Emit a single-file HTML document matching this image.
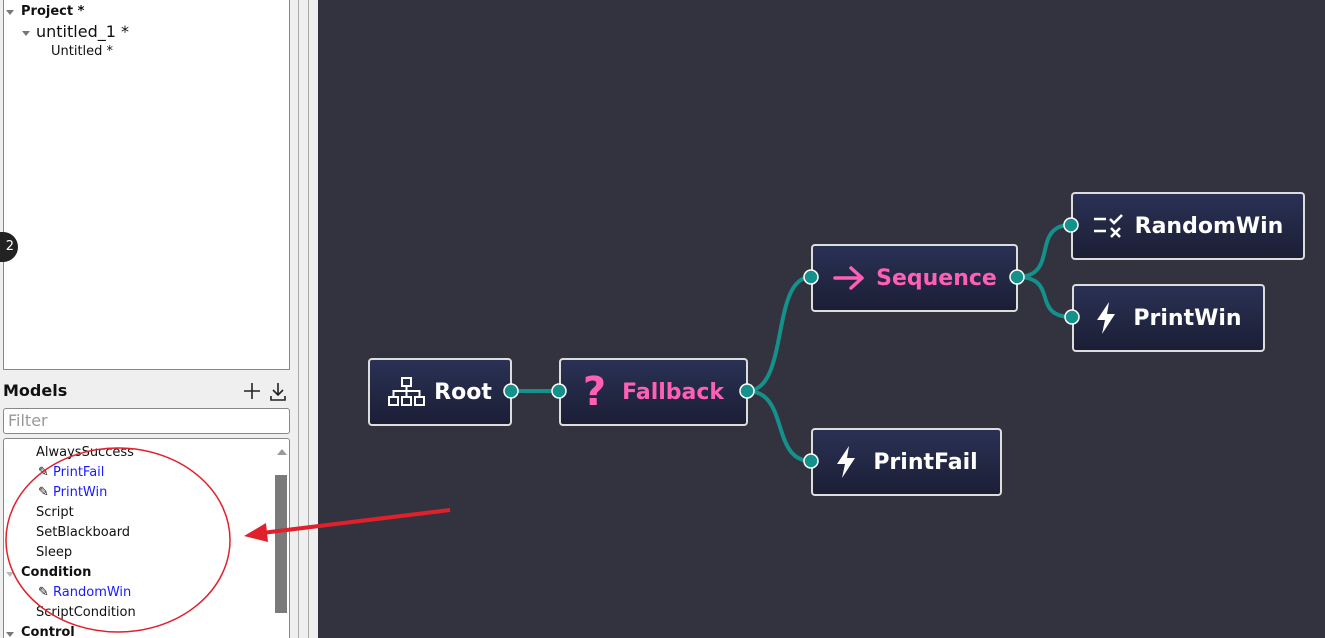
<!DOCTYPE html>
<html><head><meta charset="utf-8"><style>
html,body{margin:0;width:1325px;height:638px;overflow:hidden}
body{background:#efefef;font-family:"DejaVu Sans","Liberation Sans",sans-serif;position:relative}
.a{position:absolute}
.t{position:absolute;font-size:13px;color:#111;white-space:nowrap}
.b{color:#1a1aff}
.node{position:absolute;box-sizing:border-box;border:2px solid #ddd;border-radius:4px;background:linear-gradient(#2a3154,#1b1e35);color:#fff;font-weight:bold;font-size:22px;display:flex;align-items:center;justify-content:center;gap:12px}
.tri{position:absolute;width:0;height:0;border-left:4px solid transparent;border-right:4px solid transparent;border-top:5px solid #777}
</style></head><body>
<div class="a" style="left:3px;top:-2px;width:287px;height:372px;background:#fff;border:1px solid #888;box-sizing:border-box"></div>
<div class="tri" style="left:6px;top:10px"></div>
<div class="t" style="left:21px;top:4px;font-weight:bold">Project *</div>
<div class="tri" style="left:22px;top:31px"></div>
<div class="t" style="left:36px;top:22px;font-size:16px">untitled_1 *</div>
<div class="t" style="left:51px;top:44px">Untitled *</div>
<div class="a" style="left:-20px;top:232px;width:38px;height:30px;border-radius:15px;background:#222;color:#fff;font-size:13px;line-height:30px;text-align:right;padding-right:4px;box-sizing:border-box">2</div>
<div class="t" style="left:3px;top:381px;font-size:16px;font-weight:bold">Models</div>
<svg class="a" style="left:242px;top:381px" width="48" height="22" fill="none" stroke="#222" stroke-width="1.6"><path d="M10 2v16M2 10h16"/><path d="M36 2v12M31 9l5 5 5-5M29 15v4h14v-4"/></svg>
<div class="a" style="left:3px;top:408px;width:287px;height:26px;background:#fff;border:1px solid #888;border-radius:3px;box-sizing:border-box;color:#999;font-size:16px;padding:2px 4px">Filter</div>
<div class="a" style="left:3px;top:438px;width:287px;height:200px;background:#fff;border:1px solid #888;border-bottom:none;border-radius:3px 3px 0 0;box-sizing:border-box;overflow:hidden"></div>
<div class="a" style="left:275px;top:475px;width:12px;height:138px;background:#7a7a7a"></div>
<div class="a" style="left:277px;top:449px;width:0;height:0;border-left:5px solid transparent;border-right:5px solid transparent;border-bottom:6px solid #999"></div>
<div class="t" style="left:36px;top:445px">AlwaysSuccess</div>
<div class="t" style="left:38px;top:465px">✎ <span class="b">PrintFail</span></div>
<div class="t" style="left:38px;top:485px">✎ <span class="b">PrintWin</span></div>
<div class="t" style="left:36px;top:505px">Script</div>
<div class="t" style="left:36px;top:525px">SetBlackboard</div>
<div class="t" style="left:36px;top:545px">Sleep</div>
<div class="tri" style="left:6px;top:572px;border-top-color:#bbb"></div>
<div class="t" style="left:21px;top:565px;font-weight:bold">Condition</div>
<div class="t" style="left:38px;top:585px">✎ <span class="b">RandomWin</span></div>
<div class="t" style="left:36px;top:605px">ScriptCondition</div>
<div class="tri" style="left:6px;top:632px"></div>
<div class="t" style="left:21px;top:625px;font-weight:bold">Control</div>
<div class="a" style="left:298px;top:0;width:1px;height:638px;background:#aaa"></div>
<div class="a" style="left:308px;top:0;width:1px;height:638px;background:#aaa"></div>
<div class="a" style="left:318px;top:0;width:1007px;height:638px;background:#33323f"></div>
<svg class="a" style="left:0;top:0" width="1325" height="638">
<g fill="none" stroke="#14918a" stroke-width="4">
<path d="M511 391H559"/>
<path d="M747 391C790 391 770 277 811 277"/>
<path d="M747 391C790 391 770 461 811 461"/>
<path d="M1017 277C1060 277 1030 225 1071 225"/>
<path d="M1017 277C1060 277 1030 317 1072 317"/>
</g>
</svg>
<div class="node" style="left:368px;top:358px;width:144px;height:68px;gap:8px"><svg width="38" height="30" viewBox="0 0 38 30" fill="none" stroke="#fff" stroke-width="2"><rect x="14" y="1" width="9" height="8"/><rect x="1" y="20" width="9" height="8"/><rect x="14" y="20" width="9" height="8"/><rect x="27" y="20" width="9" height="8"/><path d="M18.5 9v5M5.5 20v-6h26v6M18.5 14v6"/></svg>Root</div>
<div class="node" style="left:559px;top:358px;width:189px;height:68px;color:#ff5fb5;gap:16px"><span style="font-size:40px;font-family:'DejaVu Sans',sans-serif">?</span>Fallback</div>
<div class="node" style="left:811px;top:244px;width:207px;height:68px;color:#ff5fb5;gap:10px"><svg width="34" height="26" viewBox="0 0 34 26" fill="none" stroke="#ff5fb5" stroke-width="3.5" stroke-linecap="round" stroke-linejoin="round"><path d="M3 13h27M19 3l11 10-11 10"/></svg>Sequence</div>
<div class="node" style="left:1071px;top:192px;width:234px;height:68px;gap:10px"><svg width="32" height="26" viewBox="0 0 32 26" fill="none" stroke="#fff" stroke-width="2.6"><path d="M1 6h12M1 18h12M17 6l4 4 8-8M18 15l9 9M27 15l-9 9"/></svg>RandomWin</div>
<div class="node" style="left:1072px;top:284px;width:193px;height:68px;gap:16px"><svg width="22" height="34" viewBox="0 0 22 34"><path d="M14 1L2 19h8l-3 14L20 13h-8z" fill="#fff"/></svg>PrintWin</div>
<div class="node" style="left:811px;top:428px;width:191px;height:68px;gap:16px"><svg width="22" height="34" viewBox="0 0 22 34"><path d="M14 1L2 19h8l-3 14L20 13h-8z" fill="#fff"/></svg>PrintFail</div>
<svg class="a" style="left:0;top:0" width="1325" height="638">
<g fill="#14918a" stroke="#fff" stroke-width="1.5">
<circle cx="511" cy="391" r="7"/><circle cx="559" cy="391" r="7"/><circle cx="747" cy="391" r="7"/>
<circle cx="811" cy="277" r="7"/><circle cx="1017" cy="277" r="7"/><circle cx="1071" cy="225" r="7"/>
<circle cx="1072" cy="317" r="7"/><circle cx="811" cy="461" r="7"/>
</g>
<ellipse cx="118" cy="540" rx="112" ry="92" fill="none" stroke="#e0202a" stroke-width="1.5"/>
<path d="M450 510L262 533" stroke="#e0202a" stroke-width="4"/>
<path d="M244 536L266 523L268 542Z" fill="#e0202a"/>
</svg>
</body></html>
